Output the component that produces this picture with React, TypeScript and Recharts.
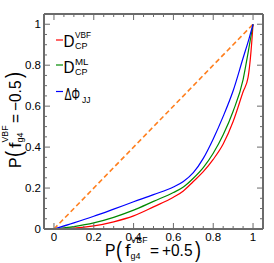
import { LineChart, Line, XAxis, YAxis } from "recharts";

const FONT = "'Liberation Sans', Arial, sans-serif";
const AXIS = "#6b6b6b";

// ROC-style curves, x = P(f=+0.5), y = P(f=-0.5)
const vbfX = [0, 0.1, 0.2, 0.3, 0.4, 0.5, 0.6, 0.65, 0.7, 0.75, 0.8, 0.85, 0.9, 0.95, 0.975, 0.99, 1];
const vbfY = [0, 0.004, 0.015, 0.035, 0.064, 0.108, 0.155, 0.186, 0.232, 0.28, 0.34, 0.415, 0.525, 0.67, 0.74, 0.87, 1];

const mlX = [0, 0.1, 0.2, 0.3, 0.4, 0.5, 0.6, 0.65, 0.7, 0.75, 0.8, 0.85, 0.9, 0.95, 0.975, 1];
const mlY = [0, 0.012, 0.03, 0.057, 0.092, 0.135, 0.178, 0.205, 0.248, 0.3, 0.37, 0.46, 0.575, 0.73, 0.86, 1];

const dphiX = [0, 0.1, 0.2, 0.3, 0.4, 0.5, 0.6, 0.65, 0.7, 0.75, 0.8, 0.85, 0.9, 0.95, 0.98, 1];
const dphiY = [0, 0.03, 0.062, 0.097, 0.133, 0.168, 0.205, 0.232, 0.275, 0.345, 0.44, 0.55, 0.675, 0.835, 0.93, 1];

const diagX = [0, 1];
const diagY = [0, 1];

const xTicks = [0, 0.05, 0.1, 0.15, 0.2, 0.25, 0.3, 0.35, 0.4, 0.45, 0.5, 0.55, 0.6, 0.65, 0.7, 0.75, 0.8, 0.85, 0.9, 0.95, 1, 1.05];
const yTicks = xTicks;
const majorLabels = ["0", "0.2", "0.4", "0.6", "0.8", "1"];

const toPoints = (xs: number[], ys: number[]) => xs.map((x, i) => ({ x, y: ys[i] }));

const majorIdx = (v: number) => {
  const k = Math.round(v * 5);
  return Math.abs(v * 5 - k) < 1e-6 ? k : -1;
};

function BottomTick(props: any) {
  const { x, y, payload } = props;
  const k = majorIdx(payload.value);
  return (
    <g>
      <line x1={x} x2={x} y1={y} y2={y - (k >= 0 ? 6 : 3)} stroke={AXIS} />
      {k >= 0 && k < majorLabels.length && (
        <text x={x} y={y + 12} textAnchor="middle" fontSize={11.5} fontFamily={FONT} fill="#000">
          {majorLabels[k]}
        </text>
      )}
    </g>
  );
}

function LeftTick(props: any) {
  const { x, y, payload } = props;
  const k = majorIdx(payload.value);
  return (
    <g>
      <line x1={x} x2={x + (k >= 0 ? 6 : 3)} y1={y} y2={y} stroke={AXIS} />
      {k >= 0 && k < majorLabels.length && (
        <text x={x - 3} y={y + 4} textAnchor="end" fontSize={11.5} fontFamily={FONT} fill="#000">
          {majorLabels[k]}
        </text>
      )}
    </g>
  );
}

function TopTick(props: any) {
  const { x, y, payload } = props;
  const k = majorIdx(payload.value);
  return <line x1={x} x2={x} y1={y} y2={y + (k >= 0 ? 6 : 3)} stroke={AXIS} />;
}

function RightTick(props: any) {
  const { x, y, payload } = props;
  const k = majorIdx(payload.value);
  return <line x1={x} x2={x - (k >= 0 ? 6 : 3)} y1={y} y2={y} stroke={AXIS} />;
}

// text piece squeezed to a given advance width
function T({ x, y, size, w, children }: { x: number; y: number; size: number; w: number; children: any }) {
  return (
    <text x={x} y={y} fontSize={size} textLength={w} lengthAdjust="spacingAndGlyphs">
      {children}
    </text>
  );
}

function AxisTitle({ sign }: { sign: string }) {
  return (
    <g fontFamily={FONT} fill="#000">
      <T x={0} y={0} size={16} w={10.5}>P</T>
      <T x={11} y={0.5} size={22} w={6}>(</T>
      <T x={20} y={0} size={16} w={5.5}>f</T>
      <T x={25.5} y={-13} size={9.5} w={17}>VBF</T>
      <T x={25.5} y={2.5} size={9.5} w={10}>g4</T>
      <T x={45} y={0} size={16} w={9}>=</T>
      <T x={57} y={0} size={16} w={30.5}>{sign + "0.5"}</T>
      <T x={90} y={0.5} size={22} w={6}>)</T>
    </g>
  );
}

function LegendBox() {
  return (
    <g fontFamily={FONT} fill="#000">
      <line x1={56} x2={63} y1={40} y2={40} stroke="#ff0000" strokeWidth={1.2} />
      <T x={63.5} y={47} size={17} w={11}>D</T>
      <T x={75} y={37.5} size={9.5} w={16}>VBF</T>
      <T x={75} y={48.5} size={9.5} w={12.5}>CP</T>

      <line x1={56} x2={63} y1={65} y2={65} stroke="#008a00" strokeWidth={1.2} />
      <T x={63.5} y={72.5} size={17} w={11}>D</T>
      <T x={75} y={64.5} size={9.5} w={13.5}>ML</T>
      <T x={75} y={75} size={9.5} w={12.5}>CP</T>

      <line x1={56} x2={63} y1={91.5} y2={91.5} stroke="#0000ff" strokeWidth={1.2} />
      <T x={64.5} y={99.5} size={17} w={15.5}>ΔΦ</T>
      <T x={82} y={102.5} size={9.5} w={8.5}>JJ</T>
    </g>
  );
}

export default function App() {
  return (
    <div style={{ position: "absolute", left: 0, top: 0, width: 274, height: 263, background: "#fff" }}>
      <LineChart width={274} height={263} margin={{ top: 0, right: 0, bottom: 0, left: 0 }}>
        <XAxis
          xAxisId="b"
          type="number"
          dataKey="x"
          domain={[-0.05, 1.05]}
          allowDataOverflow
          ticks={xTicks}
          interval={0}
          height={34}
          tickSize={0}
          tickMargin={0}
          tickLine={false}
          axisLine={{ stroke: AXIS, strokeWidth: 2 }}
          tick={<BottomTick />}
        />
        <XAxis
          xAxisId="t"
          orientation="top"
          type="number"
          dataKey="x"
          domain={[-0.05, 1.05]}
          allowDataOverflow
          ticks={xTicks}
          interval={0}
          height={14}
          tickSize={0}
          tickMargin={0}
          tickLine={false}
          axisLine={{ stroke: AXIS, strokeWidth: 2 }}
          tick={<TopTick />}
        />
        <YAxis
          yAxisId="l"
          type="number"
          dataKey="y"
          domain={[0, 1.05]}
          allowDataOverflow
          ticks={yTicks}
          interval={0}
          width={44}
          tickSize={0}
          tickMargin={0}
          tickLine={false}
          axisLine={{ stroke: AXIS, strokeWidth: 2 }}
          tick={<LeftTick />}
        />
        <YAxis
          yAxisId="r"
          orientation="right"
          type="number"
          dataKey="y"
          domain={[0, 1.05]}
          allowDataOverflow
          ticks={yTicks}
          interval={0}
          width={11}
          tickSize={0}
          tickMargin={0}
          tickLine={false}
          axisLine={{ stroke: AXIS, strokeWidth: 2 }}
          tick={<RightTick />}
        />
        <Line
          xAxisId="t"
          yAxisId="r"
          data={toPoints(diagX, diagY)}
          dataKey="y"
          type="linear"
          stroke="#ff7f1e"
          strokeWidth={1.6}
          strokeDasharray="5 3"
          dot={false}
          isAnimationActive={false}
        />
        <Line
          xAxisId="b"
          yAxisId="l"
          data={toPoints(vbfX, vbfY)}
          dataKey="y"
          type="monotone"
          stroke="#ff0000"
          strokeWidth={1.2}
          dot={false}
          isAnimationActive={false}
        />
        <Line
          xAxisId="b"
          yAxisId="l"
          data={toPoints(mlX, mlY)}
          dataKey="y"
          type="monotone"
          stroke="#008a00"
          strokeWidth={1.2}
          dot={false}
          isAnimationActive={false}
        />
        <Line
          xAxisId="b"
          yAxisId="l"
          data={toPoints(dphiX, dphiY)}
          dataKey="y"
          type="monotone"
          stroke="#0000ff"
          strokeWidth={1.2}
          dot={false}
          isAnimationActive={false}
        />
      </LineChart>
      <svg width={274} height={263} style={{ position: "absolute", left: 0, top: 0, pointerEvents: "none" }}>
        <LegendBox />
        <g transform="translate(105,256)">
          <AxisTitle sign="+" />
        </g>
        <g transform="translate(20.5,168) rotate(-90)">
          <AxisTitle sign="−" />
        </g>
      </svg>
    </div>
  );
}
